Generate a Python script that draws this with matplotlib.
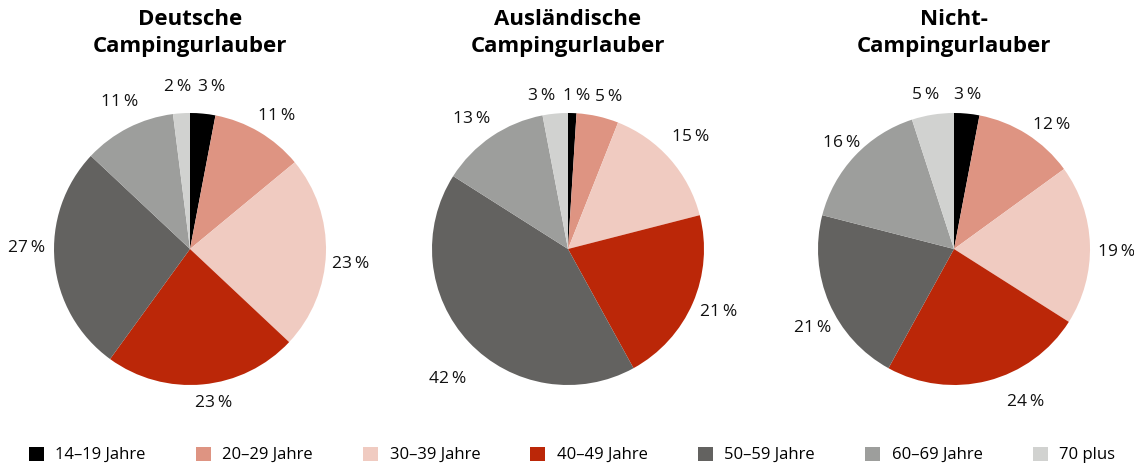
import matplotlib
matplotlib.use("Agg")
import matplotlib.pyplot as plt
import numpy as np
from matplotlib.patches import Patch

plt.rcParams['font.family'] = ['Open Sans', 'DejaVu Sans']

groups = ["14–19 Jahre", "20–29 Jahre", "30–39 Jahre", "40–49 Jahre",
          "50–59 Jahre", "60–69 Jahre", "70 plus"]
colors = ["#000000", "#de9482", "#f0cbc1", "#bb2708", "#636260", "#9d9e9c", "#d1d2d0"]

titles = ["Deutsche\nCampingurlauber", "Ausländische\nCampingurlauber", "Nicht-\nCampingurlauber"]
deutsche = [3, 11, 23, 23, 27, 11, 2]
auslaendische = [1, 5, 15, 21, 42, 13, 3]
nicht = [3, 12, 19, 24, 21, 16, 5]
shares = [deutsche, auslaendische, nicht]

# small label nudges (pixels, x right / y down)
nudges = [
    [(6, 0), (4, 7), (-2, 10), (8, -8), (-1, -16), (4, -2), (-2, 1)],
    [(3, 10), (5, 7), (0, -4), (1, -2), (-1, 18), (-5, 5), (-11, 9)],
    [(-2, 8), (10, 14), (-1, 8), (31, -5), (8, 14), (7, 6), (-3, 7)],
]

W, H = 1134, 466
fig = plt.figure(figsize=(W / 100, H / 100), dpi=100)

centers_x = [190, 568, 954]
center_y = 249
r_px = 136
L = 1.5
size = 2 * L * r_px

for cx, vals, title, nd in zip(centers_x, shares, titles, nudges):
    ax = fig.add_axes([(cx - size / 2) / W, (H - center_y - size / 2) / H, size / W, size / H])
    wedges, _ = ax.pie(vals, colors=colors, startangle=90, counterclock=False,
                       wedgeprops=dict(linewidth=0))
    ax.set_xlim(-L, L)
    ax.set_ylim(-L, L)
    ax.set_aspect("equal")
    ax.axis("off")
    for w, v, (dx, dy) in zip(wedges, vals, nd):
        ang = np.deg2rad((w.theta1 + w.theta2) / 2)
        ax.annotate(f"{v}\u2009%", (1.2 * np.cos(ang), 1.2 * np.sin(ang)),
                    xytext=(dx, -dy), textcoords="offset pixels",
                    ha="center", va="center", fontsize=12.5, color="#111111")
    fig.text(cx / W, 1 - 33 / H, title, ha="center", va="center",
             fontsize=16, fontweight="bold", linespacing=1.35)

handles = [Patch(facecolor=c, edgecolor="none") for c in colors]
fig.legend(handles, groups, loc="center", bbox_to_anchor=(0.5 + 5 / W, 1 - 455 / H), ncol=7,
           frameon=False, fontsize=12, handlelength=0.9, handleheight=0.9,
           handletextpad=0.7, columnspacing=3.0)

fig.savefig("out.png", dpi=100)
